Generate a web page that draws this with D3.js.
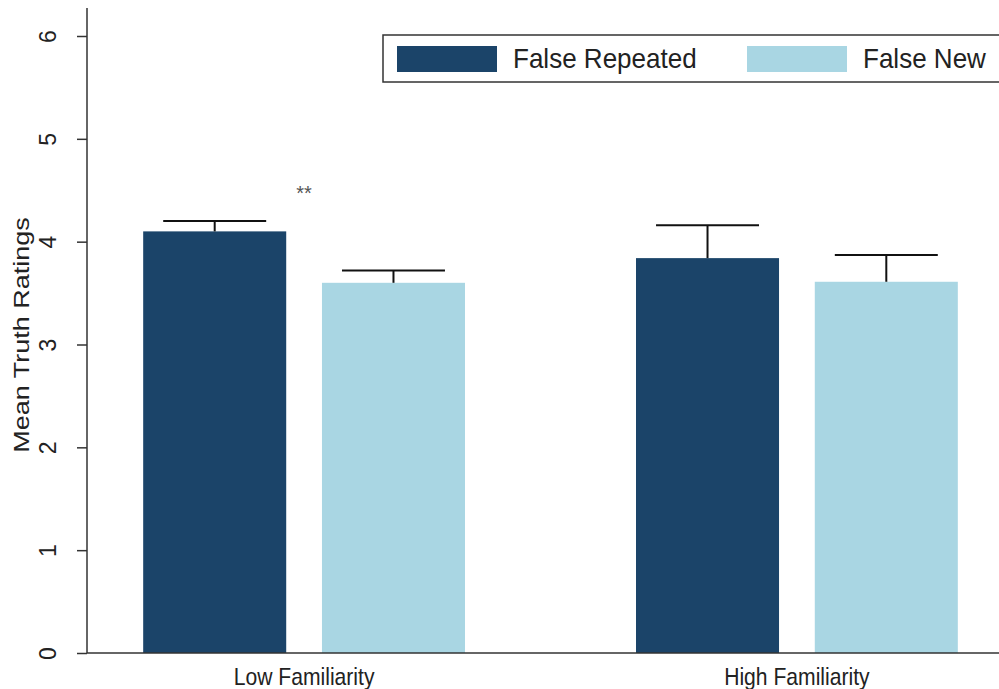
<!DOCTYPE html>
<html lang="en">
<head>
<meta charset="utf-8">
<title>Mean Truth Ratings</title>
<script src="https://d3js.org/d3.v7.min.js"></script>
<style>
    body { margin: 0; background: #fff; }
    text { font-family: "Liberation Sans", Arial, sans-serif; fill: #222; }
</style>
</head>
<body>
<div id="chart"></div>
<script>
    const groups = ["Low Familiarity", "High Familiarity"];
    const series = ["False Repeated", "False New"];
    const means = [[4.10, 3.60], [3.84, 3.61]];
    const upper = [[4.20, 3.72], [4.16, 3.87]];
    const yTicks = [0, 1, 2, 3, 4, 5, 6];
    const colors = ["#1b4469", "#a9d6e3"];

    const width = 999, height = 689;
    const svg = d3.select("#chart").append("svg")
        .attr("width", width)
        .attr("height", height);

    const x0 = d3.scaleBand().domain(groups).range([87, 1014])
        .paddingInner(0.347).paddingOuter(0.114);
    const x1 = d3.scaleBand().domain(series).range([0, x0.bandwidth()])
        .paddingInner(0.2);
    const y = d3.scaleLinear().domain([0, 6]).range([653, 36]);

    // bars + error bars
    const g = svg.selectAll("g.group")
        .data(groups)
        .join("g")
        .attr("class", "group")
        .attr("transform", d => `translate(${x0(d)},0)`);

    g.each(function(grp, gi) {
        const sel = d3.select(this);
        series.forEach((s, si) => {
            const bx = x1(s), bw = x1.bandwidth();
            sel.append("rect")
                .attr("x", bx)
                .attr("y", y(means[gi][si]))
                .attr("width", bw)
                .attr("height", y(0) - y(means[gi][si]))
                .attr("fill", colors[si]);
            const cx = bx + bw / 2;
            const cap = bw * 0.36;
            sel.append("line")
                .attr("x1", cx).attr("x2", cx)
                .attr("y1", y(means[gi][si])).attr("y2", y(upper[gi][si]))
                .attr("stroke", "#111").attr("stroke-width", 2);
            sel.append("line")
                .attr("x1", cx - cap).attr("x2", cx + cap)
                .attr("y1", y(upper[gi][si])).attr("y2", y(upper[gi][si]))
                .attr("stroke", "#111").attr("stroke-width", 2);
        });
    });

    // significance marker
    svg.append("text")
        .attr("x", x0(groups[0]) + x0.bandwidth() / 2)
        .attr("y", 200)
        .attr("text-anchor", "middle")
        .style("font-size", "20px")
        .style("fill", "#555")
        .text("**");

    // y axis
    const yAxis = svg.append("g")
        .attr("transform", "translate(87,0)")
        .call(d3.axisLeft(y).tickValues(yTicks).tickFormat(d3.format("d")).tickSize(10));
    yAxis.select(".domain").attr("d", "M0,8V653").attr("stroke", "#333").attr("stroke-width", 1.5);
    yAxis.selectAll(".tick line").attr("stroke", "#333").attr("stroke-width", 1.5);
    yAxis.selectAll(".tick text")
        .attr("transform", "rotate(-90)")
        .attr("x", 0).attr("y", -39).attr("dy", "0.35em")
        .attr("text-anchor", "middle")
        .style("font-size", "23px")
        .style("fill", "#222");

    svg.append("text")
        .attr("transform", "translate(29,335) rotate(-90) scale(1,0.85)")
        .attr("text-anchor", "middle")
        .style("font-size", "27px")
        .text("Mean Truth Ratings");

    // x axis
    svg.append("line")
        .attr("x1", 87).attr("x2", width)
        .attr("y1", y(0)).attr("y2", y(0))
        .attr("stroke", "#333").attr("stroke-width", 1.5);
    svg.selectAll("text.xlab")
        .data(groups)
        .join("text")
        .attr("class", "xlab")
        .attr("transform", d => `translate(${x0(d) + x0.bandwidth() / 2},685) scale(0.88,1)`)
        .attr("text-anchor", "middle")
        .style("font-size", "24px")
        .text(d => d);

    // legend
    const lg = svg.append("g");
    lg.append("rect")
        .attr("x", 383).attr("y", 35)
        .attr("width", 640).attr("height", 47)
        .attr("fill", "#fff").attr("stroke", "#333").attr("stroke-width", 1.5);
    series.forEach((s, i) => {
        const lx = 397 + i * 350;
        lg.append("rect")
            .attr("x", lx).attr("y", 46)
            .attr("width", 100).attr("height", 26)
            .attr("fill", colors[i]);
        lg.append("text")
            .attr("transform", `translate(${lx + 116},68) scale(0.93,1)`)
            .style("font-size", "28px")
            .text(s);
    });
</script>
</body>
</html>
